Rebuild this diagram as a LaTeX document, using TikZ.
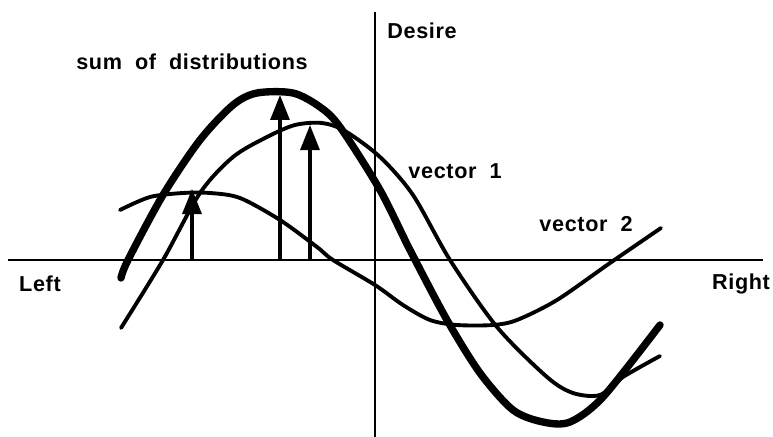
\documentclass[tikz,border=0pt]{standalone}
\usepackage{fontspec}
\setmainfont{Liberation Sans}[LetterSpace=3]
\usepackage{tikz}
\usetikzlibrary{arrows.meta,positioning}
\tikzset{
  axisline/.style={line width=1.7pt},
  vectorcurve/.style={line width=2.2pt,line join=round,line cap=round},
  sumcurve/.style={line width=4.2pt,line join=round,line cap=round},
  push/.style={-{Triangle[length=5mm,width=3.8mm]},line width=1.8pt},
  labeltext/.style={font=\bfseries\fontsize{12.3}{14}\selectfont,inner sep=0pt}
}
\newcommand{\gap}{\hspace{0.6em}}

\begin{document}
\begin{tikzpicture}[x=1cm,y=1cm]
\useasboundingbox (-7.5,-3.54) rectangle (7.96,5.2);
% axes
\coordinate (west) at (-7.34,0);
\coordinate (east) at (7.76,0);
\coordinate (top) at (0,4.96);
\coordinate (bottom) at (0,-3.54);
\draw[axisline] (west) -- (east);
\draw[axisline] (bottom) -- (top);
\node[labeltext] (desire) at (0.94,4.58) {Desire};
\node[labeltext] (left) at (-6.70,-0.48) {Left};
\node[labeltext] (right) at (7.32,-0.48) {Right};
% the three distributions
\draw[sumcurve] plot[smooth,tension=0.5] coordinates {(-5.08,-0.36) (-4.94,0) (-4.24,1.30)
  (-3.50,2.40) (-2.84,3.10) (-2.36,3.34) (-1.64,3.34) (-1.10,3.06) (-0.70,2.66)
  (0.10,1.40) (0.70,0.20) (1.44,-1.20) (2.10,-2.26) (2.76,-3.00) (3.36,-3.24)
  (3.90,-3.24) (4.56,-2.74) (5.70,-1.30)};
\draw[vectorcurve] plot[smooth,tension=0.5] coordinates {(-5.08,-1.36) (-4.24,0) (-3.50,1.34)
  (-2.84,2.06) (-2.16,2.46) (-1.60,2.70) (-1.06,2.74) (-0.60,2.58) (0.10,2.06)
  (0.76,1.30) (1.50,0) (2.44,-1.34) (3.44,-2.34) (3.96,-2.66) (4.50,-2.70)
  (4.96,-2.34) (5.70,-1.92)};
\draw[vectorcurve] plot[smooth,tension=0.5] coordinates {(-5.10,1.00) (-4.50,1.26) (-3.84,1.34)
  (-3.30,1.34) (-2.70,1.24) (-1.90,0.80) (-1.16,0.26) (-0.84,0) (0,-0.50)
  (0.56,-0.90) (1.10,-1.20) (1.64,-1.30) (2.36,-1.30) (2.84,-1.20) (3.64,-0.80)
  (4.70,-0.06) (5.72,0.64)};
\node[labeltext] (sum) at (-3.66,3.96) {sum\gap of\gap distributions};
\node[labeltext] (vone) at (1.60,1.78) {vector\gap 1};
\node[labeltext] (vtwo) at (4.22,0.72) {vector\gap 2};
% arrows from the axis up to the peaks
\coordinate (pa) at (-3.66,0);
\coordinate (pb) at (-1.90,0);
\coordinate (pc) at (-1.30,0);
\coordinate (ta) at (-3.66,1.42);
\coordinate (tb) at (-1.90,3.30);
\coordinate (tc) at (-1.30,2.70);
\draw[push] (pa) -- (ta);
\draw[push] (pb) -- (tb);
\draw[push] (pc) -- (tc);
\end{tikzpicture}
\end{document}
